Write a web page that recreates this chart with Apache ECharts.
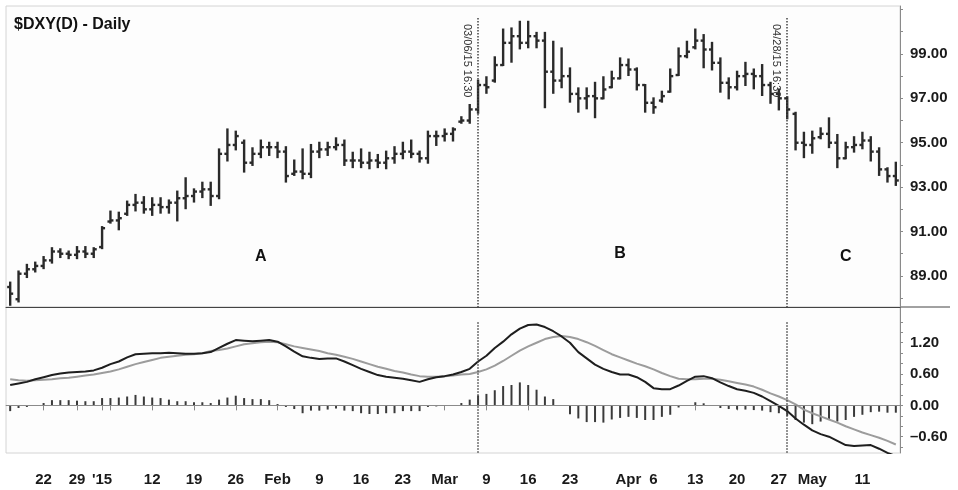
<!DOCTYPE html>
<html>
<head>
<meta charset="utf-8">
<script src="https://cdn.jsdelivr.net/npm/echarts@6/dist/echarts.min.js"></script>
<style>
html,body{margin:0;padding:0;background:#fff}
#chart{width:958px;height:490px}
</style>
</head>
<body>
<div id="chart"></div>
<script>
// trading days, 16 Dec 2014 - 15 May 2015
var dates = ['12/16','12/17','12/18','12/19','12/22','12/23','12/24','12/26','12/29','12/30','12/31',
  '1/2','1/5','1/6','1/7','1/8','1/9','1/12','1/13','1/14','1/15','1/16','1/19','1/20','1/21','1/22','1/23',
  '1/26','1/27','1/28','1/29','1/30','2/2','2/3','2/4','2/5','2/6','2/9','2/10','2/11','2/12','2/13',
  '2/16','2/17','2/18','2/19','2/20','2/23','2/24','2/25','2/26','2/27','3/2','3/3','3/4','3/5','3/6',
  '3/9','3/10','3/11','3/12','3/13','3/16','3/17','3/18','3/19','3/20','3/23','3/24','3/25','3/26','3/27',
  '3/30','3/31','4/1','4/2','4/3','4/6','4/7','4/8','4/9','4/10','4/13','4/14','4/15','4/16','4/17',
  '4/20','4/21','4/22','4/23','4/24','4/27','4/28','4/29','4/30','5/1','5/4','5/5','5/6','5/7','5/8',
  '5/11','5/12','5/13','5/14','5/15'];

var opens = [88.5,87.95,89.1,89.3,89.45,89.7,90.1,90.0,89.95,90.1,90.0,
  90.3,91.45,91.5,91.8,92.2,92.3,92.0,92.2,92.1,92.3,92.5,92.6,92.8,92.9,92.6,94.5,
  94.9,95.0,94.1,94.5,94.8,94.8,94.6,93.6,93.7,93.6,94.6,94.7,94.8,94.9,94.2,
  94.2,94.1,94.2,94.1,94.3,94.5,94.6,94.5,94.3,95.3,95.3,95.4,95.95,96.0,96.5,
  97.6,97.8,98.5,99.5,99.8,99.5,99.8,99.6,98.2,97.8,98.0,97.2,97.0,97.1,97.0,
  97.5,97.9,98.5,98.3,97.6,96.8,96.9,97.3,98.05,98.9,99.3,99.6,99.2,98.6,97.7,
  97.5,98.0,98.1,98.0,97.6,97.2,97.0,96.3,95.0,94.9,95.25,95.4,95.0,94.3,94.8,
  94.9,95.1,94.6,93.8,93.5];
var highs = [88.7,89.2,89.5,89.6,89.85,90.25,90.2,90.1,90.3,90.3,90.25,
  91.2,91.9,91.85,92.35,92.65,92.55,92.5,92.5,92.4,92.8,93.4,92.9,93.2,93.2,94.7,95.6,
  95.5,95.1,94.75,95.1,95.0,95.0,94.8,94.2,94.7,94.9,95.0,95.0,95.2,95.1,94.55,
  94.7,94.55,94.45,94.6,94.8,95.0,95.1,94.6,95.5,95.5,95.6,95.65,96.15,96.7,97.8,
  97.95,98.85,100.1,100.15,100.45,100.45,99.95,99.95,99.55,99.25,98.35,97.45,97.45,97.7,97.95,
  98.2,98.8,98.75,98.35,97.6,97.0,97.3,98.3,99.25,99.55,100.1,99.85,99.5,98.8,97.9,
  98.2,98.6,98.3,98.5,97.7,97.4,97.05,96.35,95.45,95.5,95.65,96.1,95.35,95.0,95.25,
  95.45,95.25,94.75,93.85,94.1];
var lows = [87.7,87.85,88.95,89.2,89.35,89.6,89.85,89.8,89.8,89.85,89.85,
  90.25,91.4,91.1,91.75,91.95,91.85,91.75,91.85,91.85,91.5,92.05,92.35,92.55,92.2,92.5,94.2,
  94.7,93.7,94.0,94.35,94.45,94.35,93.25,93.55,93.4,93.45,94.35,94.45,94.7,94.0,93.9,
  93.9,93.85,93.9,93.85,94.1,94.3,94.35,94.15,94.1,94.9,95.1,95.1,95.9,95.9,96.35,
  97.25,97.75,98.5,98.65,99.25,99.3,99.3,96.6,97.25,97.5,96.85,96.4,96.55,96.15,97.0,
  97.5,97.9,98.05,97.4,96.4,96.35,96.85,97.3,98.05,98.85,99.25,98.4,98.3,97.3,97.0,
  97.4,97.6,97.45,97.15,96.8,96.5,96.1,94.7,94.35,94.55,95.2,94.8,93.9,94.3,94.6,
  94.75,94.2,93.55,93.25,93.1];
var closes = [88.2,89.1,89.3,89.45,89.7,90.1,90.0,89.95,90.1,90.0,90.2,
  91.15,91.5,91.6,92.2,92.3,92.0,92.2,92.1,92.3,92.5,92.6,92.8,92.9,92.6,94.5,94.9,
  95.3,94.1,94.5,94.8,94.8,94.6,93.5,93.7,93.6,94.6,94.7,94.8,94.9,94.2,94.2,
  94.1,94.2,94.1,94.3,94.5,94.6,94.5,94.3,95.3,95.3,95.4,95.6,96.0,96.5,97.6,
  97.5,98.5,99.5,99.8,99.5,99.8,99.6,98.2,97.8,98.0,97.2,97.0,97.1,97.0,97.4,
  97.9,98.5,98.3,97.6,96.8,96.6,97.1,98.0,98.9,99.1,99.6,99.2,98.6,97.7,97.5,
  98.0,98.1,98.0,97.6,97.2,97.0,96.5,95.0,94.9,95.2,95.4,95.0,94.3,94.8,94.9,
  95.1,94.6,93.8,93.5,93.3];

var macdLine = [0.39,0.42,0.45,0.50,0.54,0.58,0.61,0.63,0.64,0.65,0.67,
  0.72,0.79,0.84,0.92,0.98,0.99,1.00,1.00,1.01,1.00,0.99,0.99,1.00,1.02,1.10,1.18,
  1.25,1.24,1.23,1.24,1.25,1.22,1.13,1.03,0.94,0.91,0.89,0.90,0.90,0.84,0.77,
  0.70,0.64,0.58,0.55,0.53,0.51,0.48,0.45,0.50,0.54,0.56,0.59,0.64,0.70,0.84,
  0.95,1.10,1.22,1.36,1.47,1.54,1.55,1.50,1.42,1.32,1.20,1.02,0.90,0.78,0.70,
  0.64,0.59,0.59,0.54,0.45,0.33,0.31,0.31,0.38,0.47,0.55,0.56,0.52,0.44,0.37,
  0.31,0.28,0.24,0.17,0.08,-0.01,-0.11,-0.25,-0.37,-0.48,-0.55,-0.60,-0.68,-0.76,-0.78,
  -0.77,-0.76,-0.83,-0.91,-0.97];
var signalLine = [0.50,0.48,0.47,0.48,0.49,0.50,0.52,0.53,0.55,0.57,0.59,
  0.62,0.65,0.69,0.74,0.79,0.83,0.87,0.91,0.93,0.95,0.97,0.98,1.00,1.04,1.06,1.09,
  1.13,1.17,1.19,1.21,1.22,1.21,1.17,1.13,1.10,1.07,1.04,1.00,0.97,0.93,0.89,
  0.84,0.79,0.74,0.70,0.66,0.63,0.59,0.56,0.55,0.55,0.56,0.57,0.59,0.60,0.64,
  0.69,0.76,0.85,0.95,1.05,1.13,1.20,1.27,1.31,1.33,1.31,1.27,1.21,1.14,1.06,
  0.98,0.92,0.86,0.80,0.75,0.69,0.62,0.56,0.51,0.50,0.50,0.51,0.51,0.49,0.46,
  0.43,0.40,0.36,0.30,0.23,0.17,0.10,0.02,-0.08,-0.15,-0.21,-0.27,-0.33,-0.40,-0.46,
  -0.52,-0.57,-0.62,-0.68,-0.75];
var histogram = [-0.11,-0.05,-0.03,0.0,0.045,0.10,0.10,0.10,0.09,0.08,0.08,
  0.14,0.14,0.15,0.17,0.20,0.17,0.15,0.14,0.11,0.08,0.08,0.06,0.06,0.045,0.11,0.15,
  0.185,0.14,0.12,0.12,0.10,0.025,-0.03,-0.07,-0.15,-0.10,-0.10,-0.08,-0.06,-0.10,-0.11,
  -0.15,-0.165,-0.165,-0.15,-0.15,-0.11,-0.11,-0.11,-0.03,-0.02,0.0,0.0,0.045,0.11,0.19,
  0.22,0.29,0.37,0.39,0.44,0.39,0.30,0.17,0.12,0.0,-0.17,-0.25,-0.32,-0.32,-0.33,
  -0.27,-0.24,-0.22,-0.24,-0.28,-0.28,-0.22,-0.18,-0.04,0.0,0.06,0.04,0.0,-0.05,-0.07,
  -0.08,-0.08,-0.09,-0.10,-0.13,-0.15,-0.20,-0.28,-0.33,-0.36,-0.31,-0.28,-0.31,-0.28,-0.22,
  -0.18,-0.13,-0.12,-0.14,-0.14];

// x axis ticks and their texts ('' = tick only)
var tickDates  = ['12/22','12/29','1/2',"1/5",'1/12','1/19','1/26','2/2','2/9','2/16','2/23','3/2',
  '3/9','3/16','3/23','3/30','4/1','4/6','4/13','4/20','4/27','5/1','5/4','5/11'];
var tickLabels = ['22','29',"'15",'','12','19','26','Feb','9','16','23','Mar',
  '9','16','23','','Apr','6','13','20','27','May','','11'];

var priceLabels = [89, 91, 93, 95, 97, 99];
var priceTicks  = [88, 89, 90, 91, 92, 93, 94, 95, 96, 97, 98, 99, 100, 101];
var macdLabels  = [-0.6, 0, 0.6, 1.2];
var macdTicks   = [-0.8, -0.6, -0.4, -0.2, 0, 0.2, 0.4, 0.6, 0.8, 1.0, 1.2, 1.4, 1.6];

var eventDates  = ['3/6', '4/28'];
var eventLabels = ['03/06/15 16:30', '04/28/15 16:30'];

var regionNames = ['A', 'B', 'C'];
var regionDates = ['1/29', '3/31', '5/7'];
var regionLevel = [89.86, 90.0, 89.86];

var tickMap = {};
tickDates.forEach(function(d, i){ tickMap[d] = tickLabels[i]; });

var ohlc = dates.map(function(d, i){ return [i, opens[i], highs[i], lows[i], closes[i]]; });

var FONT = '"Liberation Sans", Arial, Helvetica, sans-serif';
var barColor = '#2a2a2a';

function renderOHLC(params, api){
    var i = api.value(0);
    var hi = api.coord([i, api.value(2)])
        ,lo = api.coord([i, api.value(3)])
        ,op = api.coord([i, api.value(1)])
        ,cl = api.coord([i, api.value(4)]);
    var w = 3;
    var st = {stroke: barColor, lineWidth: 2.4};
    return {
        type: 'group',
        children: [
            {type: 'line', shape: {x1: hi[0], y1: hi[1] - 1, x2: lo[0], y2: lo[1] + 1}, style: st},
            {type: 'line', shape: {x1: op[0] - w, y1: op[1], x2: op[0], y2: op[1]}, style: st},
            {type: 'line', shape: {x1: cl[0], y1: cl[1], x2: cl[0] + w, y2: cl[1]}, style: st}
        ]
    };
}

function fmtNum(v){
    return (v < 0 ? '\u2013' : '') + Math.abs(v).toFixed(2);
}

var eventStyle = {color: '#444', type: 'dotted', width: 1.5};

var chart = echarts.init(document.getElementById('chart'), null, {renderer: 'canvas'});
chart.setOption({
    animation: false,
    backgroundColor: '#ffffff',
    title: {
        text: '$DXY(D) - Daily',
        left: 14, top: 17, padding: 0,
        textStyle: {fontFamily: FONT, fontSize: 16, fontWeight: 'bold', color: '#111'}
    },
    grid: [
        {left: 6, right: 58, top: 6, height: 301, show: true, borderColor: '#d4d4d4', borderWidth: 1, backgroundColor: '#fdfdfd'},
        {left: 6, right: 58, top: 307, height: 146, show: true, borderColor: '#d4d4d4', borderWidth: 1, backgroundColor: '#fdfdfd'}
    ],
    xAxis: [
        {
            type: 'category', gridIndex: 0, data: dates, boundaryGap: true,
            axisLine: {show: true, lineStyle: {color: '#444', width: 1}},
            axisTick: {show: false}, axisLabel: {show: false}, splitLine: {show: false}
        },
        {
            type: 'category', gridIndex: 1, data: dates, boundaryGap: true,
            axisLine: {show: true, lineStyle: {color: '#aaa', width: 1}},
            axisTick: {
                show: true, alignWithLabel: true, length: 5, inside: false,
                lineStyle: {color: '#888'},
                interval: function(idx, val){ return tickMap[val] !== undefined; }
            },
            axisLabel: {
                show: true, margin: 19,
                fontFamily: FONT, fontSize: 15, fontWeight: 'bold', color: '#1a1a1a',
                interval: function(idx, val){ return !!tickMap[val]; },
                formatter: function(val){ return tickMap[val] || ''; }
            },
            splitLine: {show: false}
        }
    ],
    yAxis: [
        {
            type: 'value', gridIndex: 0, position: 'right', min: 87.6, max: 101.16, scale: true,
            axisLine: {show: true, lineStyle: {color: '#8a8a8a'}},
            axisTick: {show: true, length: 3, customValues: priceTicks, lineStyle: {color: '#8a8a8a'}},
            axisLabel: {
                margin: 10, customValues: priceLabels, formatter: fmtNum,
                fontFamily: FONT, fontSize: 15, fontWeight: 'bold', color: '#1a1a1a'
            },
            splitLine: {show: false}
        },
        {
            type: 'value', gridIndex: 1, position: 'right', min: -0.912, max: 1.884,
            axisLine: {show: true, lineStyle: {color: '#8a8a8a'}},
            axisTick: {show: true, length: 3, customValues: macdTicks, lineStyle: {color: '#8a8a8a'}},
            axisLabel: {
                margin: 10, customValues: macdLabels, formatter: fmtNum,
                fontFamily: FONT, fontSize: 15, fontWeight: 'bold', color: '#1a1a1a'
            },
            splitLine: {show: false}
        }
    ],
    graphic: [
        {type: 'line', shape: {x1: 900, y1: 307, x2: 950, y2: 307}, style: {stroke: '#444', lineWidth: 1}}
    ],
    series: [
        {
            name: 'DXY', type: 'custom', xAxisIndex: 0, yAxisIndex: 0,
            renderItem: renderOHLC, data: ohlc,
            encode: {x: 0, y: [1, 2, 3, 4]},
            clip: true,
            markLine: {
                silent: true, symbol: ['none', 'none'],
                lineStyle: eventStyle,
                label: {
                    show: true, position: 'insideStartBottom', distance: 6,
                    fontFamily: FONT, fontSize: 11, color: '#333',
                    formatter: function(p){ return p.name; }
                },
                data: eventDates.map(function(d, i){
                    return [{name: eventLabels[i], xAxis: d, yAxis: 100.62}, {xAxis: d, yAxis: 87.6}];
                })
            },
            markPoint: {
                silent: true, symbol: 'circle', symbolSize: 1,
                itemStyle: {color: 'rgba(0,0,0,0)'},
                label: {
                    show: true, position: 'inside',
                    fontFamily: FONT, fontSize: 16, fontWeight: 'bold', color: '#111',
                    formatter: function(p){ return p.name; }
                },
                data: regionNames.map(function(n, i){
                    return {name: n, coord: [regionDates[i], regionLevel[i]]};
                })
            }
        },
        {
            name: 'Hist', type: 'bar', xAxisIndex: 1, yAxisIndex: 1,
            data: histogram, barWidth: 2,
            itemStyle: {color: '#3a3a3a'},
            markLine: {
                silent: true, symbol: ['none', 'none'],
                lineStyle: {color: '#8a8a8a', type: 'solid', width: 1},
                label: {show: false},
                data: [{yAxis: 0}]
            }
        },
        {
            name: 'Signal', type: 'line', xAxisIndex: 1, yAxisIndex: 1,
            data: signalLine, showSymbol: false, smooth: false, clip: true,
            lineStyle: {color: '#9c9c9c', width: 2}
        },
        {
            name: 'MACD', type: 'line', xAxisIndex: 1, yAxisIndex: 1,
            data: macdLine, showSymbol: false, smooth: false, clip: true,
            lineStyle: {color: '#1e1e1e', width: 2},
            markLine: {
                silent: true, symbol: ['none', 'none'],
                lineStyle: eventStyle,
                label: {show: false},
                data: eventDates.map(function(d){
                    return [{xAxis: d, yAxis: 1.59}, {xAxis: d, yAxis: -0.912}];
                })
            }
        }
    ]
});
</script>
</body>
</html>
